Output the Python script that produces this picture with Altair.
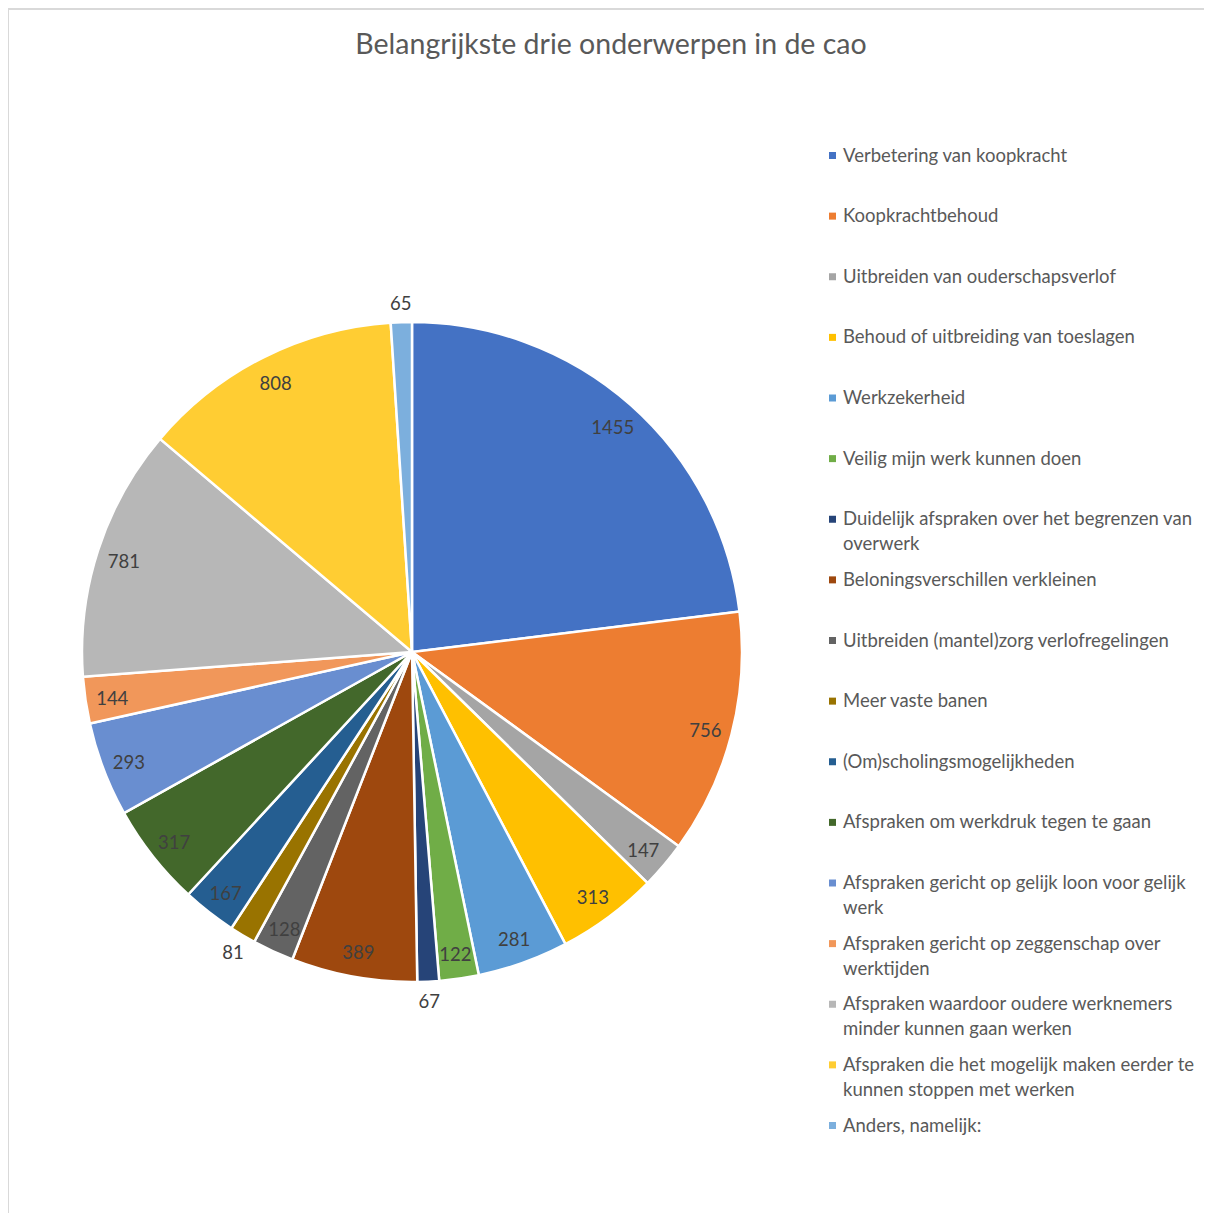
import altair as alt
import pandas as pd

categories = [
    "Verbetering van koopkracht",
    "Koopkrachtbehoud",
    "Uitbreiden van ouderschapsverlof",
    "Behoud of uitbreiding van toeslagen",
    "Werkzekerheid",
    "Veilig mijn werk kunnen doen",
    "Duidelijk afspraken over het begrenzen van overwerk",
    "Beloningsverschillen verkleinen",
    "Uitbreiden (mantel)zorg verlofregelingen",
    "Meer vaste banen",
    "(Om)scholingsmogelijkheden",
    "Afspraken om werkdruk tegen te gaan",
    "Afspraken gericht op gelijk loon voor gelijk werk",
    "Afspraken gericht op zeggenschap over werktijden",
    "Afspraken waardoor oudere werknemers minder kunnen gaan werken",
    "Afspraken die het mogelijk maken eerder te kunnen stoppen met werken",
    "Anders, namelijk:",
]

legend_labels = [
    "Verbetering van koopkracht",
    "Koopkrachtbehoud",
    "Uitbreiden van ouderschapsverlof",
    "Behoud of uitbreiding van toeslagen",
    "Werkzekerheid",
    "Veilig mijn werk kunnen doen",
    "Duidelijk afspraken over het begrenzen van\noverwerk",
    "Beloningsverschillen verkleinen",
    "Uitbreiden (mantel)zorg verlofregelingen",
    "Meer vaste banen",
    "(Om)scholingsmogelijkheden",
    "Afspraken om werkdruk tegen te gaan",
    "Afspraken gericht op gelijk loon voor gelijk\nwerk",
    "Afspraken gericht op zeggenschap over\nwerktijden",
    "Afspraken waardoor oudere werknemers\nminder kunnen gaan werken",
    "Afspraken die het mogelijk maken eerder te\nkunnen stoppen met werken",
    "Anders, namelijk:",
]

values = [1455, 756, 147, 313, 281, 122, 67, 389, 128, 81, 167, 317, 293, 144, 781, 808, 65]

colors = [
    "#4472C4", "#ED7D31", "#A5A5A5", "#FFC000", "#5B9BD5", "#70AD47",
    "#264478", "#9E480E", "#636363", "#997300", "#255E91", "#43682B",
    "#698ED0", "#F1975A", "#B7B7B7", "#FFCD33", "#7CAFDD",
]

title_text = "Belangrijkste drie onderwerpen in de cao"

FONT = "Lato"
W, H = 1196, 1205
CX, CY, R = 404, 644, 330

df = pd.DataFrame({
    "idx": list(range(len(categories))),
    "category": categories,
    "value": values,
    "legend_label": legend_labels,
})

color_scale = alt.Scale(domain=categories, range=colors)
base = alt.Chart(df)

theta = alt.Theta("value:Q", stack=True)
order = alt.Order("idx:Q")

pie = base.mark_arc(outerRadius=R, stroke="white", strokeWidth=2.5).encode(
    theta=theta,
    color=alt.Color("category:N", scale=color_scale, legend=None),
    order=order,
    x=alt.value(CX),
    y=alt.value(CY),
)

labels_in = base.mark_text(font=FONT, fontSize=18.5, color="#404040", radius=303, dy=3).encode(
    theta=theta,
    text=alt.condition("datum.value >= 100", alt.Text("value:Q"), alt.value("")),
    order=order,
    x=alt.value(CX),
    y=alt.value(CY),
)

labels_out = base.mark_text(font=FONT, fontSize=18.5, color="#404040", radius=349, dy=1).encode(
    theta=theta,
    text=alt.condition("datum.value < 100", alt.Text("value:Q"), alt.value("")),
    order=order,
    x=alt.value(CX),
    y=alt.value(CY),
)

ypos = alt.Y("idx:Q", scale=alt.Scale(domain=[0, 16], range=[147.5, 1117.5]), axis=None)

leg_sym = base.mark_square(size=49, opacity=1).encode(
    x=alt.value(824.5),
    y=ypos,
    color=alt.Color("category:N", scale=color_scale, legend=None),
)

leg_txt = base.mark_text(
    font=FONT, fontSize=18.5, color="#595959", align="left",
    baseline="alphabetic", dy=6, lineBreak="\n", lineHeight=25,
).encode(
    x=alt.value(835),
    y=ypos,
    text=alt.Text("legend_label:N"),
)

one = pd.DataFrame({"a": [0]})
border_top = alt.Chart(one).mark_rule(color="#d9d9d9", strokeWidth=2).encode(
    x=alt.value(0), x2=alt.value(W), y=alt.value(1)
)
border_left = alt.Chart(one).mark_rule(color="#d9d9d9", strokeWidth=2).encode(
    x=alt.value(0), y=alt.value(0), y2=alt.value(H)
)
title = alt.Chart(one).mark_text(
    font=FONT, fontSize=28.5, color="#595959", align="center", baseline="alphabetic",
).encode(
    x=alt.value(603), y=alt.value(45.5), text=alt.value(title_text)
)

chart = alt.layer(
    border_top, border_left, title, pie, labels_in, labels_out, leg_sym, leg_txt
).properties(
    width=W,
    height=H,
    autosize=alt.AutoSizeParams(type="none"),
    padding=0,
).configure_view(stroke=None)

chart.save("out.html", embed_options={"renderer": "svg", "actions": False})
